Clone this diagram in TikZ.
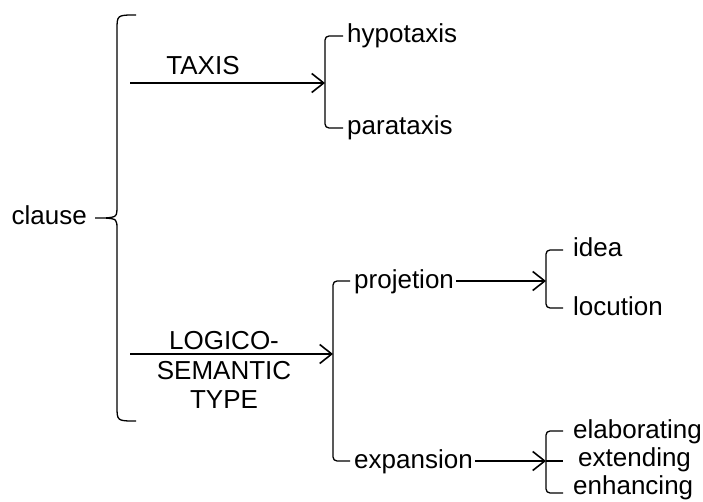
\documentclass[tikz,border=0pt]{standalone}
\usepackage{fontspec}
\setmainfont{Liberation Sans}
\usetikzlibrary{arrows.meta}
\tikzset{
	lbl/.style={font=\fontsize{26}{28.5}\selectfont, inner sep=2pt, text height=19pt, text depth=5pt},
	arr/.style={line width=1.6pt, -{Straight Barb[length=12pt,width=19pt,line width=1.6pt]}},
	brk/.style={line width=1.3pt, rounded corners=4pt}
}
\begin{document}
\begin{tikzpicture}[x=1pt,y=-1pt]
\useasboundingbox (0,0) rectangle (703,502);

\node[lbl, anchor=east] (clause) at (89,218) {clause};
\foreach \x/\y/\t in {
	345/36/hypotaxis,345/128/parataxis%
	,352/281/projetion,352/461/expansion%
	,571/250/idea,571/308/locution%
	,571/431/elaborating,576/459/extending,571/487/enhancing%
}{
	\node[lbl, anchor=west] (\t) at (\x,\y) {\t};
}
\node[lbl] (taxis) at (203,68) {TAXIS};
\node[font=\fontsize{26}{29.5}\selectfont, align=center, inner sep=0pt] (logico) at (224,370) {LOGICO-\\SEMANTIC\\TYPE};

\coordinate (taxisfrom) at (130,83);
\coordinate (taxisbr) at (325,83);
\coordinate (logicofrom) at (130,354);
\coordinate (logicobr) at (333,354);
\coordinate (projbr) at (546,281);
\coordinate (expbr) at (546,461);
\coordinate (cltip) at ([xshift=6pt]clause.east);

% big brace
\draw[line width=1.3pt] (136,15) .. controls (117,15) .. (117,30) -- (117,205)
	.. controls (117,217) .. (105,218) -- (cltip) -- (105,218)
	.. controls (117,219) .. (117,230) -- (117,406) .. controls (117,421) .. (136,421);

\foreach \u/\v in {
	taxisfrom/taxisbr,logicofrom/logicobr%
	,projetion/projbr,expansion/expbr%
}{
	\draw[arr] (\u) -- (\v);
}

\draw[brk] ([xshift=-2pt]hypotaxis.west) -| (taxisbr) |- ([xshift=-2pt]parataxis.west);
\draw[brk] ([xshift=-2pt]projetion.west) -| (logicobr) |- ([xshift=-2pt]expansion.west);
\draw[brk] ([xshift=-8pt]idea.west) -| (projbr) |- ([xshift=-8pt]locution.west);
\draw[brk] ([xshift=-8pt]elaborating.west) -| (expbr) |- ([xshift=-8pt,yshift=-6pt]enhancing.west);
\draw[line width=1.3pt] (expbr) -- ([xshift=-13pt,yshift=-2pt]extending.west);
\end{tikzpicture}
\end{document}
